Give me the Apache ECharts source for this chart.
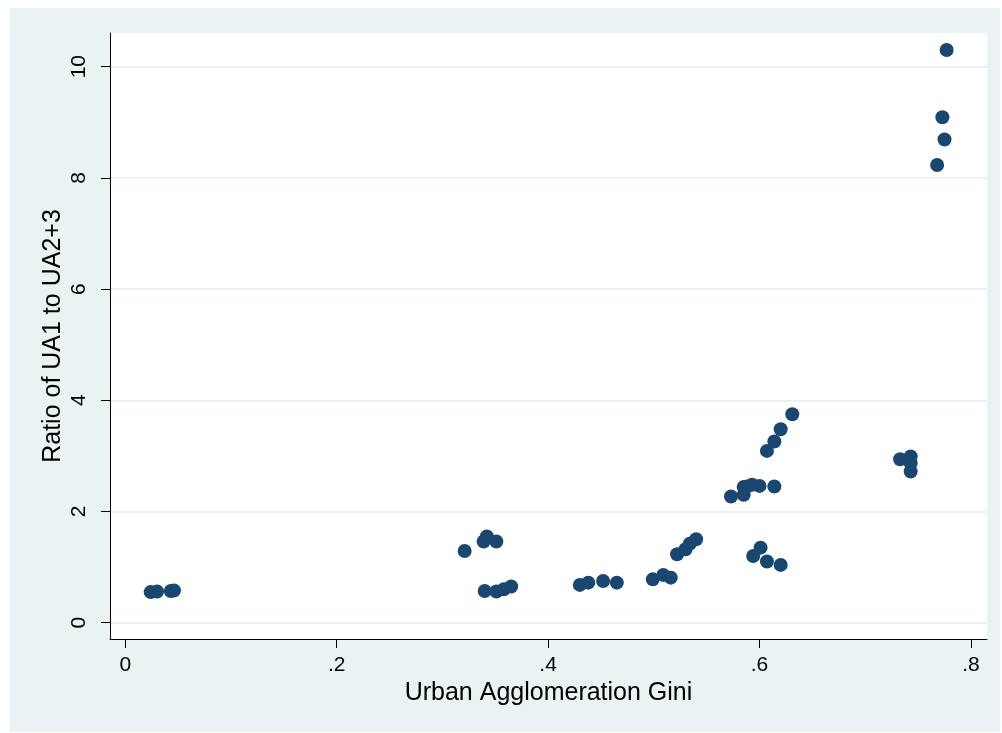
<!DOCTYPE html>
<html>
<head>
<meta charset="utf-8">
<script src="https://cdn.jsdelivr.net/npm/echarts@6/dist/echarts.min.js"></script>
<style>
html,body{margin:0;padding:0;background:#ffffff;}
#chart{width:1002px;height:733px;}
</style>
</head>
<body>
<div id="chart"></div>
<script>
// Data
const giniX = [0.024, 0.030, 0.043, 0.046,
  0.321, 0.339, 0.342, 0.351, 0.340, 0.351, 0.358, 0.365,
  0.430, 0.438, 0.452, 0.465,
  0.499, 0.509, 0.516, 0.522, 0.530, 0.534, 0.540,
  0.573, 0.585, 0.585, 0.588, 0.593, 0.600, 0.614,
  0.607, 0.614, 0.620, 0.631,
  0.594, 0.601, 0.607, 0.620,
  0.733, 0.743, 0.743, 0.743,
  0.768, 0.773, 0.775, 0.777];
const ratioY = [0.55, 0.56, 0.57, 0.58,
  1.29, 1.46, 1.55, 1.46, 0.57, 0.56, 0.60, 0.65,
  0.68, 0.72, 0.75, 0.72,
  0.78, 0.86, 0.81, 1.23, 1.32, 1.42, 1.50,
  2.27, 2.30, 2.44, 2.45, 2.48, 2.46, 2.45,
  3.09, 3.26, 3.48, 3.75,
  1.20, 1.35, 1.10, 1.04,
  2.94, 2.99, 2.87, 2.72,
  8.23, 9.09, 8.69, 10.30];
const xTicks = [0, 0.2, 0.4, 0.6, 0.8];
const yTicks = [0, 2, 4, 6, 8, 10];
const xTitle = 'Urban Agglomeration Gini';
const yTitle = 'Ratio of UA1 to UA2+3';

const points = giniX.map((x, i) => [x, ratioY[i]]);
const fmtX = v => {
  if (Math.abs(v) < 1e-9) return '0';
  return String(Math.round(v * 10) / 10).replace(/^0\./, '.');
};

const chart = echarts.init(document.getElementById('chart'), null, {renderer: 'canvas'});
const font = '"Liberation Sans", Arial, Helvetica, sans-serif';
chart.setOption({
  animation: false,
  backgroundColor: '#ffffff',
  textStyle: {fontFamily: font},
  graphic: [{
    type: 'rect', z: -10, silent: true,
    shape: {x: 10, y: 8, width: 990, height: 724},
    style: {fill: '#eaf2f3'}
  }],
  grid: {
    left: 110, top: 33, right: 15, bottom: 94,
    show: true, backgroundColor: '#ffffff', borderWidth: 0
  },
  xAxis: {
    type: 'value',
    min: -0.0145, max: 0.8152,
    name: xTitle, nameLocation: 'middle', nameGap: 41,
    nameTextStyle: {fontSize: 25, color: '#000', fontFamily: font},
    axisLine: {show: true, onZero: false, lineStyle: {color: '#000', width: 1}},
    axisTick: {show: true, customValues: xTicks, length: 9, lineStyle: {color: '#000', width: 1}},
    axisLabel: {customValues: xTicks, formatter: fmtX, fontSize: 21, color: '#000', margin: 16, fontFamily: font},
    splitLine: {show: false}
  },
  yAxis: {
    type: 'value',
    min: -0.293, max: 10.605,
    name: yTitle, nameLocation: 'middle', nameGap: 44, nameRotate: 90,
    nameMoveOverlap: false,
    nameTextStyle: {fontSize: 25, color: '#000', fontFamily: font},
    axisLine: {show: true, onZero: false, lineStyle: {color: '#000', width: 1}},
    axisTick: {show: true, customValues: yTicks, length: 9, lineStyle: {color: '#000', width: 1}},
    axisLabel: {customValues: yTicks, rotate: 90, fontSize: 21, color: '#000', margin: 20, fontFamily: font},
    splitLine: {show: true, lineStyle: {color: '#eaf2f3', width: 2}}
  },
  series: [{
    type: 'scatter',
    data: points,
    symbol: 'circle',
    symbolSize: 14,
    itemStyle: {color: '#1a476f', opacity: 1}
  }]
});
</script>
</body>
</html>
